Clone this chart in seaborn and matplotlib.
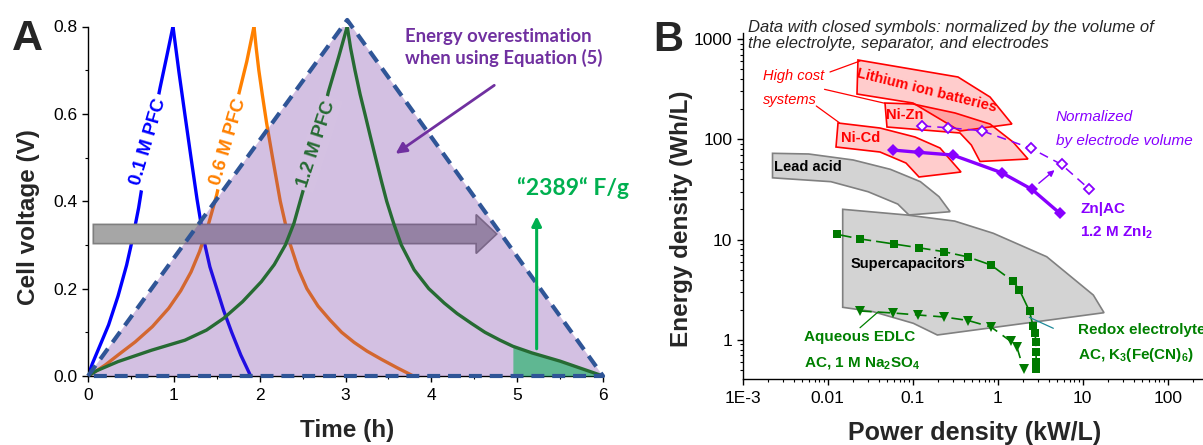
import matplotlib
matplotlib.use("Agg")
import matplotlib.pyplot as plt
import seaborn as sns
import numpy as np
from matplotlib.patches import FancyArrow
from matplotlib.ticker import MultipleLocator, LogLocator, NullFormatter, FixedLocator, FixedFormatter

# ---------------- Panel A data (time in h, voltage in V) ----------------
blue_charge_t = [0, 0.05, 0.14, 0.24, 0.35, 0.45, 0.52, 0.59, 0.70, 0.84, 0.92, 0.99]
blue_charge_v = [0, 0.028, 0.07, 0.117, 0.183, 0.254, 0.315, 0.385, 0.52, 0.66, 0.734, 0.80]
blue_dis_t = [0.99, 1.06, 1.13, 1.20, 1.27, 1.345, 1.42, 1.50, 1.58, 1.674, 1.78, 1.895]
blue_dis_v = [0.80, 0.695, 0.597, 0.50, 0.405, 0.315, 0.25, 0.20, 0.15, 0.10, 0.048, 0.0]
orange_charge_t = [0, 0.1, 0.2, 0.35, 0.55, 0.75, 0.94, 1.08, 1.2, 1.3, 1.4, 1.5, 1.635, 1.75, 1.85, 1.934]
orange_charge_v = [0, 0.012, 0.025, 0.048, 0.078, 0.113, 0.155, 0.195, 0.238, 0.285, 0.345, 0.415, 0.536, 0.64, 0.72, 0.80]
orange_dis_t = [1.934, 1.96, 1.99, 2.03, 2.08, 2.15, 2.24, 2.35, 2.45, 2.55, 2.68, 2.82, 2.955, 3.10, 3.25, 3.42, 3.60, 3.79]
orange_dis_v = [0.80, 0.75, 0.70, 0.645, 0.58, 0.50, 0.40, 0.305, 0.245, 0.20, 0.16, 0.128, 0.10, 0.077, 0.057, 0.038, 0.019, 0.0]
green_charge_t = [0, 0.1, 0.35, 0.74, 1.13, 1.38, 1.58, 1.80, 2.02, 2.17, 2.30, 2.40, 2.48, 2.664, 2.80, 2.92, 3.02]
green_charge_v = [0, 0.012, 0.033, 0.059, 0.082, 0.105, 0.132, 0.17, 0.216, 0.255, 0.30, 0.35, 0.406, 0.535, 0.65, 0.73, 0.80]
green_dis_t = [3.02, 3.06, 3.11, 3.17, 3.23, 3.29, 3.35, 3.42, 3.48, 3.56, 3.65, 3.80, 3.97, 4.15,
               4.30, 4.47, 4.625, 4.80, 4.95, 5.17, 5.50, 5.75, 6.0]
green_dis_v = [0.80, 0.75, 0.70, 0.645, 0.597, 0.548, 0.50, 0.445, 0.40, 0.35, 0.30, 0.243, 0.20, 0.167,
               0.143, 0.12, 0.10, 0.082, 0.068, 0.053, 0.034, 0.017, 0.0]
tri_t = [0, 3.02, 6.0, 0]
tri_v = [0, 0.815, 0, 0]
fill_start_t = 4.95
curve_labels = ["0.1 M PFC", "0.6 M PFC", "1.2 M PFC"]

# ---------------- Panel B data (power kW/L, energy Wh/L) ----------------
zn_closed_p = [0.0579, 0.117, 0.2955, 1.117, 2.526, 5.38]
zn_closed_e = [78.2, 74.2, 69.7, 46.4, 31.7, 18.3]
zn_open_p = [0.1287, 0.260, 0.648, 2.465, 5.63, 11.93]
zn_open_e = [135.7, 130.5, 121.8, 81.3, 56.1, 31.9]
redox_p = [0.01276, 0.0243, 0.0603, 0.117, 0.2322, 0.4497, 0.832, 1.497, 1.79, 2.367, 2.60, 2.75, 2.80, 2.83, 2.83, 2.83]
redox_e = [11.29, 10.14, 9.04, 8.30, 7.58, 6.71, 5.58, 3.87, 3.18, 1.932, 1.38, 1.18, 0.96, 0.76, 0.60, 0.515]
edlc_p = [0.024, 0.0591, 0.1167, 0.2334, 0.4497, 0.834, 1.434, 1.687, 2.012]
edlc_e = [1.942, 1.854, 1.771, 1.692, 1.561, 1.345, 0.964, 0.840, 0.513]

li_p = [0.0227, 0.341, 0.812, 1.47, 0.36, 0.1008, 0.0221]
li_e = [617.6, 418, 264, 142, 121, 230, 282.9]
nizn_p = [0.0472, 0.1008, 0.3146, 0.812, 1.514, 2.27, 0.619, 0.489, 0.36, 0.0498]
nizn_e = [230, 225, 183, 142, 94, 63.6, 60.1, 87.7, 115.6, 132.6]
nicd_p = [0.01322, 0.04124, 0.1065, 0.2096, 0.370, 0.1186, 0.0834, 0.04124, 0.01252]
nicd_e = [145.4, 129.6, 105.4, 81.9, 47.2, 42.1, 58.0, 74.7, 83.8]
lead_p = [0.002243, 0.005962, 0.01995, 0.0546, 0.1232, 0.2039, 0.2754, 0.0902, 0.0668, 0.0299, 0.0109, 0.002243]
lead_e = [72.5, 71.4, 62.2, 50.2, 37.8, 26.8, 18.97, 17.6, 22.6, 30.0, 37.8, 41.3]
sc_p = [0.01501, 0.0850, 0.3112, 0.8875, 3.77, 13.33, 17.81, 0.1948, 0.1016, 0.0344, 0.01501]
sc_e = [20.05, 17.6, 15.3, 11.56, 6.75, 2.80, 1.867, 1.119, 1.464, 1.91, 2.113]

xticks_b = [1e-3, 1e-2, 1e-1, 1, 10, 100]
xticklabels_b = ["1E-3", "0.01", "0.1", "1", "10", "100"]
yticks_b = [1, 10, 100, 1000]
yticklabels_b = ["1", "10", "100", "1000"]

# ---------------- style ----------------
sns.set_theme(style="ticks")
plt.rcParams['font.family'] = ['Liberation Sans', 'DejaVu Sans']
plt.rcParams['mathtext.fontset'] = 'custom'
plt.rcParams['mathtext.rm'] = 'Liberation Sans'
plt.rcParams['mathtext.bf'] = 'Liberation Sans:bold'
plt.rcParams['mathtext.it'] = 'Liberation Sans:italic'
plt.rcParams['axes.linewidth'] = 1.0
plt.rcParams['axes.edgecolor'] = 'black'
for ax_ in ('xtick', 'ytick'):
    plt.rcParams[f'{ax_}.direction'] = 'out'
    plt.rcParams[f'{ax_}.major.size'] = 4.5
    plt.rcParams[f'{ax_}.minor.size'] = 2.5
    plt.rcParams[f'{ax_}.major.width'] = 1.0
    plt.rcParams[f'{ax_}.minor.width'] = 0.8
    plt.rcParams[f'{ax_}.color'] = 'black'
    plt.rcParams[f'{ax_}.labelsize'] = 12.5

W, H = 1203, 445
fig = plt.figure(figsize=(W / 100, H / 100), dpi=100)

# ================= Panel A =================
axA = fig.add_axes([88 / W, 1 - 376 / H, 515 / W, (376 - 26.5) / H])
axA.set_xlim(0, 6)
axA.set_ylim(0, 0.8)

lw_c = 2.4
sns.lineplot(x=blue_charge_t, y=blue_charge_v, ax=axA, color='#0000FF', lw=lw_c, sort=False, estimator=None, zorder=2)
sns.lineplot(x=blue_dis_t, y=blue_dis_v, ax=axA, color='#0000FF', lw=lw_c, sort=False, estimator=None, zorder=2)
sns.lineplot(x=orange_charge_t, y=orange_charge_v, ax=axA, color='#FF8000', lw=lw_c, sort=False, estimator=None, zorder=2)
sns.lineplot(x=orange_dis_t, y=orange_dis_v, ax=axA, color='#FF8000', lw=lw_c, sort=False, estimator=None, zorder=2)

# curve labels (masking the curve behind them)
axA.text(0.703, 0.536, curve_labels[0], color='#0000FF', fontsize=13.5, fontweight='bold',
         rotation=73.5, ha='center', va='center', rotation_mode='anchor', zorder=3,
         bbox=dict(boxstyle='square,pad=0.2', fc='white', ec='none'))
axA.text(1.635, 0.536, curve_labels[1], color='#FF8000', fontsize=13.5, fontweight='bold',
         rotation=73.5, ha='center', va='center', rotation_mode='anchor', zorder=3,
         bbox=dict(boxstyle='square,pad=0.2', fc='white', ec='none'))

# grey arrow (under the purple overlay)
axA.add_patch(FancyArrow(0.062, 0.325, 4.70, 0, width=0.044, head_width=0.089, head_length=0.24,
                         length_includes_head=True, fc='#A6A6A6', ec='#7F7F7F', lw=1.2, zorder=3.5))

# purple overlay triangle
axA.fill(tri_t, tri_v, color='#7030A0', alpha=0.3, lw=0, zorder=4)

# green shaded area
gt = np.array(green_dis_t)
gv = np.array(green_dis_v)
m = gt >= fill_start_t
axA.fill_between(gt[m], 0, gv[m], color='#00B050', alpha=0.55, lw=0, zorder=5)

# green curves (entirely inside the triangle)
green_c = '#266B33'
sns.lineplot(x=green_charge_t, y=green_charge_v, ax=axA, color=green_c, lw=lw_c, sort=False, estimator=None, zorder=6)
sns.lineplot(x=green_dis_t, y=green_dis_v, ax=axA, color=green_c, lw=lw_c, sort=False, estimator=None, zorder=6)
axA.text(2.664, 0.532, curve_labels[2], color=green_c, fontsize=13.5, fontweight='bold',
         rotation=72, ha='center', va='center', rotation_mode='anchor', zorder=6.5,
         bbox=dict(boxstyle='square,pad=0.2', fc='#D4C1E2', ec='none'))

# dashed triangle outline
axA.plot(tri_t, tri_v, color='#2F5597', lw=3.0, dashes=(3.1, 1.9), clip_on=False, zorder=7,
         solid_capstyle='butt', dash_capstyle='butt')

# arrows
axA.annotate('', xy=(3.557, 0.505), xytext=(4.76, 0.669),
             arrowprops=dict(arrowstyle='-|>', color='#7030A0', lw=2.0, mutation_scale=16), zorder=8)
axA.annotate('', xy=(5.227, 0.372), xytext=(5.227, 0.056),
             arrowprops=dict(arrowstyle='-|>', color='#00B050', lw=2.2, mutation_scale=14), zorder=8)

axA.text(3.693, 0.752, "Energy overestimation\nwhen using Equation (5)", color='#7030A0',
         fontsize=13.3, fontweight='bold', family=['Lato', 'DejaVu Sans'], ha='left', va='center',
         linespacing=1.25, zorder=8)
axA.text(4.998, 0.43, "\u201c2389\u201c F/g", color='#00B050', fontsize=16.5, fontweight='bold',
         family=['Lato', 'DejaVu Sans'], ha='left', va='center', zorder=8, clip_on=False)

axA.xaxis.set_major_locator(MultipleLocator(1))
axA.xaxis.set_minor_locator(MultipleLocator(0.5))
axA.yaxis.set_major_locator(MultipleLocator(0.2))
axA.yaxis.set_minor_locator(MultipleLocator(0.1))
axA.yaxis.set_major_formatter(matplotlib.ticker.FormatStrFormatter('%.1f'))
axA.tick_params(axis='x', pad=4)
axA.tick_params(axis='y', pad=3)
for s in ('top', 'right'):
    axA.spines[s].set_visible(False)
axA.set_xlabel('')
axA.set_ylabel('')

fig.text(347 / W, 1 - 431 / H, "Time (h)", fontsize=17.5, fontweight='bold', ha='center', va='center')
fig.text(29 / W, 1 - 217 / H, "Cell voltage (V)", fontsize=17.5, fontweight='bold', ha='center',
         va='center', rotation=90)
fig.text(27 / W, 1 - 39 / H, "A", fontsize=31, fontweight='bold', ha='center', va='center')

# ================= Panel B =================
axB = fig.add_axes([742.7 / W, 1 - 379 / H, (W - 742.7) / W, (379 - 33) / H])
axB.set_xscale('log')
axB.set_yscale('log')
axB.set_xlim(1e-3, 260)
axB.set_ylim(0.4075, 1148)

# region polygons
axB.fill(lead_p, lead_e, fc='#D3D3D3', ec='#808080', lw=1.2, zorder=1)
axB.fill(sc_p, sc_e, fc='#D3D3D3', ec='#808080', lw=1.2, zorder=1)
for px, py in ((li_p, li_e), (nizn_p, nizn_e), (nicd_p, nicd_e)):
    axB.fill(px, py, fc=(1, 0, 0, 0.2), ec='#FF0000', lw=1.2, zorder=2)

# leader lines
axB.plot([0.01064, 0.024], [469, 603.6], color='#FF0000', lw=0.9, zorder=2)
axB.plot([0.00917, 0.0472], [315, 228.5], color='#FF0000', lw=0.9, zorder=2)
axB.plot([0.00734, 0.0137], [214.8, 146.4], color='#FF0000', lw=0.9, zorder=2)
axB.plot([0.024, 0.0394], [1.323, 1.91], color='#008000', lw=0.9, zorder=2)
axB.plot([2.354, 4.51], [1.680, 1.305], color='#1F8A9A', lw=0.9, zorder=6)

gc = '#007A00'
sns.lineplot(x=redox_p, y=redox_e, ax=axB, color=gc, lw=1.2, linestyle=(0, (9, 3)), marker='s',
             markersize=5.5, markeredgewidth=0, sort=False, estimator=None, zorder=4)
sns.lineplot(x=edlc_p, y=edlc_e, ax=axB, color=gc, lw=1.2, linestyle=(0, (7, 4)), marker='v',
             markersize=7, markeredgewidth=0, sort=False, estimator=None, zorder=4)
pc = '#8800FF'
sns.lineplot(x=zn_open_p, y=zn_open_e, ax=axB, color=pc, lw=1.1, linestyle=(0, (6, 4)), marker='D',
             markersize=5.5, markerfacecolor='white', markeredgecolor=pc, markeredgewidth=1.3,
             sort=False, estimator=None, zorder=5)
sns.lineplot(x=zn_closed_p, y=zn_closed_e, ax=axB, color=pc, lw=2.4, marker='D',
             markersize=6.5, markeredgewidth=0, sort=False, estimator=None, zorder=5)
axB.annotate('', xy=(4.94, 51.3), xytext=(2.876, 35.0),
             arrowprops=dict(arrowstyle='-|>', color=pc, lw=1.0, mutation_scale=9), zorder=6)

# texts
axB.text(0.1462, 310, "Lithium ion batteries", color='#FF0000', fontsize=10.5, fontweight='bold',
         rotation=-14, ha='center', va='center', rotation_mode='anchor', zorder=3)
axB.text(0.0799, 174.7, "Ni-Zn", color='#FF0000', fontsize=10.5, fontweight='bold', ha='center', va='center', zorder=3)
axB.text(0.02458, 102.3, "Ni-Cd", color='#FF0000', fontsize=10.5, fontweight='bold', ha='center', va='center', zorder=3)
axB.text(0.001734, 427.6, "High cost", color='#FF0000', fontsize=10.5, style='italic', ha='left', va='center')
axB.text(0.001734, 246.6, "systems", color='#FF0000', fontsize=10.5, style='italic', ha='left', va='center')
axB.text(0.002304, 53.3, "Lead acid", color='black', fontsize=10.5, fontweight='bold', ha='left', va='center', zorder=3)
axB.text(0.01865, 5.67, "Supercapacitors", color='black', fontsize=10.5, fontweight='bold', ha='left', va='center', zorder=3)
axB.text(4.853, 168, "Normalized", color=pc, fontsize=11, style='italic', ha='left', va='center')
axB.text(4.853, 96.2, "by electrode volume", color=pc, fontsize=11, style='italic', ha='left', va='center')
axB.text(9.29, 20.0, "Zn|AC", color=pc, fontsize=11, fontweight='bold', ha='left', va='center')
axB.text(9.29, 11.56, r"1.2 M ZnI$_\mathbf{2}$", color=pc, fontsize=11, fontweight='bold', ha='left', va='center')
axB.text(0.00526, 1.076, "Aqueous EDLC", color='#008000', fontsize=11, fontweight='bold', ha='left', va='center')
axB.text(0.00526, 0.5925, r"AC, 1 M Na$_\mathbf{2}$SO$_\mathbf{4}$", color='#008000', fontsize=11,
         fontweight='bold', ha='left', va='center')
axB.text(8.81, 1.255, "Redox electrolyte", color='#008000', fontsize=11, fontweight='bold', ha='left',
         va='center', clip_on=False)
axB.text(8.81, 0.707, r"AC, K$_\mathbf{3}$(Fe(CN)$_\mathbf{6}$)", color='#008000', fontsize=11,
         fontweight='bold', ha='left', va='center')

axB.xaxis.set_major_locator(FixedLocator(xticks_b))
axB.xaxis.set_major_formatter(FixedFormatter(xticklabels_b))
axB.xaxis.set_minor_locator(LogLocator(base=10, subs=np.arange(2, 10), numticks=20))
axB.xaxis.set_minor_formatter(NullFormatter())
axB.yaxis.set_major_locator(FixedLocator(yticks_b))
axB.yaxis.set_major_formatter(FixedFormatter(yticklabels_b))
axB.yaxis.set_minor_locator(LogLocator(base=10, subs=np.arange(2, 10), numticks=20))
axB.yaxis.set_minor_formatter(NullFormatter())
axB.tick_params(axis='x', pad=4)
axB.tick_params(axis='y', pad=3)
for s in ('top', 'right'):
    axB.spines[s].set_visible(False)
axB.set_xlabel('')
axB.set_ylabel('')

fig.text(748 / W, 1 - 35.5 / H, "Data with closed symbols: normalized by the volume of\nthe electrolyte, separator, and electrodes",
         fontsize=12, style='italic', ha='left', va='center', linespacing=1.15)
fig.text(975 / W, 1 - 433 / H, "Power density (kW/L)", fontsize=18, fontweight='bold', ha='center', va='center')
fig.text(681 / W, 1 - 219 / H, "Energy density (Wh/L)", fontsize=17.5, fontweight='bold', ha='center',
         va='center', rotation=90)
fig.text(668 / W, 1 - 40 / H, "B", fontsize=30, fontweight='bold', ha='center', va='center')

fig.savefig("out.png", dpi=100, facecolor='white')
